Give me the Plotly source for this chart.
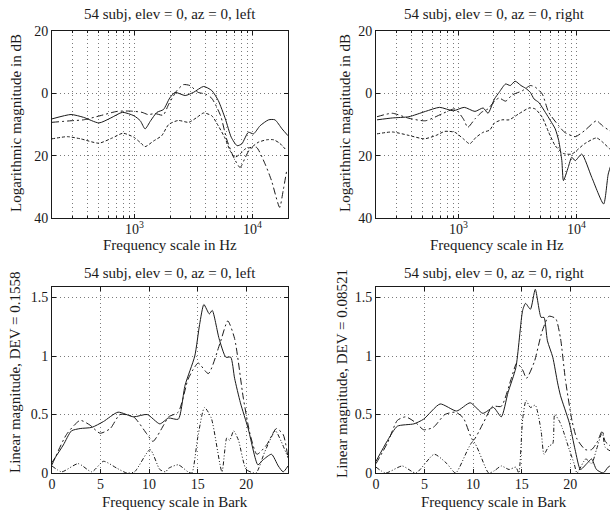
import plotly.graph_objects as go

# ---------------- data ----------------
# Top-left (left ear, log magnitude, dB vs Hz)
tl_solid_f = [200, 290, 370, 500, 630, 790, 990, 1120, 1230, 1370, 1550, 1760, 1990, 2210, 2690, 3160, 3850, 4520, 5130, 5890, 6610, 7410, 8130, 9230, 10200, 11600, 13700, 15500, 17800, 20000]
tl_solid_db = [-8.2, -6.8, -7.7, -9.5, -7.9, -6.1, -7.2, -8.8, -11.4, -8.8, -6.1, -5.2, -1.5, 0.3, -0.7, 0.3, 2.2, 0.9, -2.3, -8.2, -14.1, -16.8, -16.2, -12.5, -13.0, -10.4, -8.5, -8.5, -11.4, -13.6]
tl_dd_f = [200, 290, 370, 510, 710, 930, 1160, 1300, 1500, 1750, 1950, 2290, 2600, 2950, 3470, 3980, 4520, 5370, 6030, 6920, 7850, 8710, 9550, 10800, 12800, 14500, 17000, 18200, 19500]
tl_dd_db = [-9.3, -8.8, -8.5, -7.2, -5.8, -5.7, -6.1, -6.8, -6.5, -7.0, -3.5, 0.9, 2.8, 2.5, 0.3, -0.2, -1.6, -7.2, -14.6, -20.5, -23.8, -20.5, -17.8, -17.3, -22.7, -28.0, -36.6, -31.2, -24.8]
tl_da_f = [200, 270, 350, 500, 650, 800, 990, 1120, 1230, 1450, 1700, 1950, 2350, 2880, 3390, 3850, 4520, 5130, 5890, 6460, 7080, 7850, 8710, 9770, 11200, 13200, 15100, 17000, 19500]
tl_da_db = [-14.6, -13.9, -14.6, -16.0, -14.3, -12.8, -14.1, -15.8, -17.1, -15.3, -13.6, -10.0, -8.7, -9.3, -7.7, -6.3, -7.2, -10.4, -14.6, -18.4, -20.5, -19.5, -17.8, -17.3, -15.7, -14.9, -14.9, -16.0, -18.4]

# Top-right (right ear)
tr_solid_f = [204, 275, 380, 525, 692, 902, 1120, 1380, 1620, 1780, 2020, 2210, 2510, 2750, 3020, 3390, 3720, 4070, 4370, 4790, 5450, 6030, 6610, 7080, 7520, 7760, 8510, 9120, 9770, 11100, 13500, 17000, 18600, 20000]
tr_solid_db = [-8.5, -7.9, -7.5, -5.8, -4.5, -5.6, -4.5, -5.8, -4.7, -6.4, -1.8, 0.3, 3.0, 2.5, 3.9, 2.5, 1.6, 0.3, -1.8, -2.9, -6.1, -8.8, -11.4, -15.2, -21.6, -28.0, -23.8, -20.5, -21.6, -19.5, -27.0, -35.5, -25.9, -22.0]
tr_dd_f = [204, 275, 380, 525, 724, 933, 1100, 1200, 1380, 1580, 1780, 2020, 2210, 2510, 2860, 3470, 4070, 4470, 5130, 5820, 7080, 7940, 9770, 11700, 14800, 16600, 19100, 20000]
tr_dd_db = [-7.5, -6.4, -8.0, -8.8, -6.6, -5.0, -8.2, -10.9, -8.2, -6.0, -5.0, -2.5, -1.5, -2.5, -0.5, 0.8, 2.5, 2.0, -0.2, -6.1, -10.4, -12.5, -13.9, -12.0, -8.8, -10.4, -12.0, -12.5]
tr_da_f = [204, 275, 380, 513, 646, 767, 933, 1100, 1245, 1410, 1620, 1840, 2020, 2340, 2690, 3240, 3980, 4470, 5130, 5820, 6610, 7760, 9120, 10000, 11700, 14800, 16600, 19100, 20000]
tr_da_db = [-13.0, -12.4, -13.5, -14.6, -13.5, -12.2, -12.5, -14.6, -16.2, -14.1, -12.5, -11.8, -9.5, -8.5, -8.5, -6.6, -4.7, -5.0, -7.7, -12.5, -16.8, -19.3, -19.5, -18.4, -16.2, -14.3, -15.6, -17.8, -18.5]

# Bottom-left (left ear, linear magnitude vs Bark)
bl_solid_b = [0, 1.17, 2.0, 2.9, 4.1, 5.3, 6.8, 8.4, 9.8, 11.1, 12.0, 13.0, 13.7, 14.7, 15.2, 15.64, 16.2, 16.5, 17.2, 17.9, 18.4, 18.8, 19.4, 20.2, 21.2, 21.7, 22.6, 23.3, 23.8, 24.3]
bl_solid_v = [0.09, 0.24, 0.36, 0.38, 0.39, 0.44, 0.52, 0.48, 0.50, 0.42, 0.47, 0.46, 0.75, 1.0, 1.27, 1.44, 1.36, 1.39, 1.15, 0.99, 0.99, 0.81, 0.6, 0.38, 0.07, 0.11, 0.16, 0.06, 0.01, 0.06]
bl_dd_b = [0, 1.5, 2.9, 3.9, 4.95, 6.0, 7.0, 8.4, 9.8, 10.4, 11.5, 12.0, 13.0, 14.0, 14.5, 15.05, 16.1, 17.3, 18.1, 18.8, 19.7, 20.4, 21.1, 22.1, 23.1, 23.8, 24.3]
bl_dd_v = [0.07, 0.33, 0.45, 0.41, 0.34, 0.38, 0.50, 0.48, 0.33, 0.27, 0.41, 0.48, 0.52, 0.80, 0.88, 0.94, 0.85, 1.11, 1.30, 1.15, 0.64, 0.33, 0.16, 0.24, 0.38, 0.33, 0.13]
bl_diff_b = [0, 1.0, 2.7, 4.1, 5.3, 6.7, 7.7, 8.5, 10.1, 11.1, 11.7, 12.0, 13.0, 14.0, 14.4, 15.0, 15.7, 16.4, 17.5, 18.0, 18.3, 18.7, 19.2, 20.0, 21.0, 21.9, 23.0, 23.6, 24.3]
bl_diff_v = [0.06, 0.01, 0.08, 0.01, 0.10, 0.04, 0.0, 0.01, 0.20, 0.03, 0.01, 0.04, 0.07, 0.01, 0.0, 0.3, 0.56, 0.47, 0.01, 0.3, 0.28, 0.36, 0.28, 0.03, 0.0, 0.18, 0.36, 0.27, 0.13]

# Bottom-right (right ear)
br_solid_b = [0, 1.2, 2.2, 3.9, 4.9, 6.6, 8.3, 9.7, 11.0, 12.1, 12.9, 13.6, 14.4, 15.1, 15.4, 15.9, 16.4, 17.0, 17.3, 17.65, 18.2, 18.7, 19.0, 19.9, 20.5, 21.05, 21.7, 22.2, 22.7, 23.4, 23.9, 24.3]
br_solid_v = [0.10, 0.28, 0.40, 0.42, 0.46, 0.59, 0.53, 0.60, 0.51, 0.56, 0.48, 0.69, 0.90, 1.39, 1.45, 1.40, 1.57, 1.33, 1.33, 1.13, 0.99, 0.77, 0.66, 0.43, 0.20, 0.03, 0.08, 0.12, 0.03, 0.0, 0.05, 0.07]
br_dd_b = [0, 1.2, 2.2, 3.06, 4.1, 4.9, 5.9, 7.1, 8.2, 9.0, 10.0, 11.0, 12.0, 12.9, 13.9, 14.5, 15.1, 15.5, 16.3, 17.1, 17.8, 18.5, 19.0, 19.5, 20.2, 20.7, 21.55, 22.2, 22.75, 23.3, 23.6, 24.3]
br_dd_v = [0.08, 0.26, 0.45, 0.48, 0.43, 0.37, 0.39, 0.50, 0.52, 0.47, 0.28, 0.42, 0.57, 0.57, 0.80, 0.94, 0.88, 0.81, 0.95, 1.21, 1.34, 1.32, 1.15, 0.80, 0.44, 0.29, 0.20, 0.20, 0.26, 0.36, 0.27, 0.22]
br_diff_b = [0, 1.0, 2.7, 4.1, 6.0, 7.3, 8.2, 10.0, 11.6, 12.2, 12.9, 13.7, 14.4, 14.7, 15.1, 15.45, 15.9, 16.4, 17.0, 17.3, 17.8, 18.2, 18.4, 18.9, 19.2, 19.9, 20.4, 20.7, 21.6, 22.2, 22.7, 23.3, 23.6, 24.3]
br_diff_v = [0.05, 0.0, 0.06, 0.0, 0.16, 0.08, 0.0, 0.27, 0.0, 0.02, 0.06, 0.03, 0.05, 0.0, 0.46, 0.62, 0.56, 0.58, 0.36, 0.16, 0.23, 0.25, 0.5, 0.44, 0.38, 0.2, 0.08, 0.0, 0.12, 0.08, 0.2, 0.35, 0.22, 0.18]

titles = ["54 subj, elev = 0, az = 0, left", "54 subj, elev = 0, az = 0, right",
          "54 subj, elev = 0, az = 0, left", "54 subj, elev = 0, az = 0, right"]
ylabels = ["Logarithmic magnitude in dB", "Logarithmic magnitude in dB",
           "Linear magnitude, DEV = 0.1558", "Linear magnitude, DEV = 0.08521"]
xlabels = ["Frequency scale in Hz", "Frequency scale in Hz",
           "Frequency scale in Bark", "Frequency scale in Bark"]
db_ticks = [-40, -20, 0, 20]
db_ticktext = ["40", "20", "0", "20"]
hz_major = [1000, 10000]
hz_major_text = ["10<sup>3</sup>", "10<sup>4</sup>"]
hz_minor = [200, 300, 400, 500, 600, 700, 800, 900, 2000, 3000, 4000, 5000,
            6000, 7000, 8000, 9000, 20000]
bark_ticks = [0, 5, 10, 15, 20]
lin_ticks = [0, 0.5, 1, 1.5]
lin_ticktext = ["0", "0.5", "1", "1.5"]

# ---------------- figure ----------------
W, H = 610, 515
FONT = "Liberation Serif, Times New Roman, serif"
INK = "#1a1a1a"
GRID = "#7a7a7a"
TXT = 15
TICK = 14

fig = go.Figure()

DASH_MODEL = "7px,3px,2px,3px"
DASH_LOW = "3px,2px"
DASH_DIFF = "4px,2px,1px,2px,1px,2px"

def add(x, y, xa, ya, dash):
    fig.add_trace(go.Scatter(x=x, y=y, xaxis=xa, yaxis=ya, mode="lines",
                             line=dict(color=INK, width=1, dash=dash, shape="spline", smoothing=0.6),
                             showlegend=False, hoverinfo="skip"))

add(tl_solid_f, tl_solid_db, "x", "y", "solid")
add(tl_dd_f, tl_dd_db, "x", "y", DASH_MODEL)
add(tl_da_f, tl_da_db, "x", "y", DASH_LOW)
add(tr_solid_f, tr_solid_db, "x2", "y2", "solid")
add(tr_dd_f, tr_dd_db, "x2", "y2", DASH_MODEL)
add(tr_da_f, tr_da_db, "x2", "y2", DASH_LOW)
add(bl_solid_b, bl_solid_v, "x3", "y3", "solid")
add(bl_dd_b, bl_dd_v, "x3", "y3", DASH_MODEL)
add(bl_diff_b, bl_diff_v, "x3", "y3", DASH_DIFF)
add(br_solid_b, br_solid_v, "x4", "y4", "solid")
add(br_dd_b, br_dd_v, "x4", "y4", DASH_MODEL)
add(br_diff_b, br_diff_v, "x4", "y4", DASH_DIFF)

def px_x(p):
    return p / W

def px_y(p):
    return 1 - p / H

left_dom = [px_x(52), px_x(288)]
right_dom = [px_x(376), 1.0]
top_dom = [px_y(218), px_y(31)]
bot_dom = [px_y(473), px_y(287)]

common = dict(showline=True, linecolor=INK, linewidth=1, ticks="inside", ticklen=4,
              tickcolor=INK, showgrid=True, gridcolor=GRID, griddash="1px,3px",
              gridwidth=1, zeroline=False, automargin=False,
              tickfont=dict(family=FONT, size=TICK, color=INK))

logx = dict(type="log", tickvals=hz_major, ticktext=hz_major_text, mirror="ticks",
            ticklabelstandoff=-2,
            minor=dict(tickvals=hz_minor, ticks="inside", ticklen=2, tickcolor=INK,
                       showgrid=True, gridcolor=GRID, griddash="1px,3px", gridwidth=1))

lay = dict(
    width=W, height=H, margin=dict(l=0, r=0, t=0, b=0, pad=0, autoexpand=False),
    paper_bgcolor="white", plot_bgcolor="white",
    font=dict(family=FONT, size=TXT, color=INK),
    xaxis=dict(common, **logx, domain=left_dom, anchor="y", range=[2.30103, 4.30103]),
    yaxis=dict(common, domain=top_dom, anchor="x", range=[-40, 20], tickvals=db_ticks,
               ticktext=db_ticktext, mirror="ticks"),
    xaxis2=dict(common, **logx, domain=right_dom, anchor="y2", range=[2.30103, 4.2845]),
    yaxis2=dict(common, domain=top_dom, anchor="x2", range=[-40, 20], tickvals=db_ticks,
                ticktext=db_ticktext, mirror=False),
    xaxis3=dict(common, domain=left_dom, anchor="y3", range=[0, 24.3], tickvals=bark_ticks,
                mirror="ticks", ticklabelstandoff=-2),
    yaxis3=dict(common, domain=bot_dom, anchor="x3", range=[0, 1.59], tickvals=lin_ticks,
                ticktext=lin_ticktext, mirror="ticks"),
    xaxis4=dict(common, domain=right_dom, anchor="y4", range=[0, 24.3 * 234 / 236],
                tickvals=bark_ticks, mirror="ticks", ticklabelstandoff=-2),
    yaxis4=dict(common, domain=bot_dom, anchor="x4", range=[0, 1.59], tickvals=lin_ticks,
                ticktext=lin_ticktext, mirror=False),
)
fig.update_layout(**lay)

ann = []
def text(t, x, y, angle=0):
    ann.append(dict(text=t, x=px_x(x), y=px_y(y), xref="paper", yref="paper",
                    showarrow=False, textangle=angle, xanchor="center", yanchor="middle",
                    font=dict(family=FONT, size=TXT, color=INK)))

text(titles[0], 170, 14)
text(titles[1], 494, 14)
text(titles[2], 170, 273)
text(titles[3], 494, 273)
text(xlabels[0], 170, 245)
text(xlabels[1], 497, 245)
text(xlabels[2], 175, 502)
text(xlabels[3], 494, 502)
text(ylabels[0], 16, 123, -90)
text(ylabels[1], 345, 123, -90)
text(ylabels[2], 15, 373, -90)
text(ylabels[3], 342, 374, -90)
fig.update_layout(annotations=ann)

fig.write_html("out.html", config={"displayModeBar": False},
               post_script="document.body.style.margin='0';document.body.style.overflow='hidden';")
